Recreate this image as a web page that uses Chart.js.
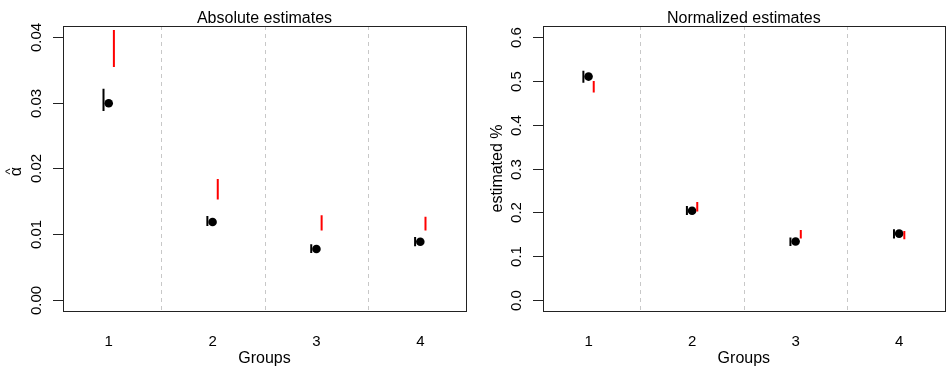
<!DOCTYPE html>
<html>

<head>
  <meta charset="UTF-8">
  <title>Absolute and normalized estimates</title>
  <script src="https://cdn.jsdelivr.net/npm/chart.js"></script>
  <style>
    body {
      margin: 0;
      background: white;
    }

    #wrap {
      position: relative;
      width: 949px;
      height: 370px;
    }

    canvas {
      position: absolute;
      top: 0;
    }

    #absChart {
      left: 0;
    }

    #normChart {
      left: 475px;
    }
  </style>
</head>

<body>
  <div id="wrap">
    <canvas id="absChart" width="475" height="370"></canvas>
    <canvas id="normChart" width="474" height="370"></canvas>
  </div>

  <script>
    // groups on the x axis
    const groups = [1, 2, 3, 4];
    const groupLabels = ['1', '2', '3', '4'];

    // absolute estimates (alpha hat)
    const absEst = [0.0299, 0.0119, 0.0078, 0.0089];
    const absBlackLo = [0.0287, 0.0113, 0.0072, 0.0082];
    const absBlackHi = [0.0321, 0.0128, 0.0085, 0.0096];
    const absRedLo = [0.0354, 0.0153, 0.0106, 0.0106];
    const absRedHi = [0.0410, 0.0184, 0.0129, 0.0127];
    const absTicks = [0, 0.01, 0.02, 0.03, 0.04];
    const absTickLabels = ['0.00', '0.01', '0.02', '0.03', '0.04'];

    // normalized estimates (estimated %)
    const normEst = [0.509, 0.204, 0.134, 0.152];
    const normBlackLo = [0.495, 0.194, 0.124, 0.141];
    const normBlackHi = [0.522, 0.215, 0.143, 0.162];
    const normRedLo = [0.473, 0.202, 0.141, 0.139];
    const normRedHi = [0.499, 0.224, 0.160, 0.158];
    const normTicks = [0, 0.1, 0.2, 0.3, 0.4, 0.5, 0.6];
    const normTickLabels = ['0.0', '0.1', '0.2', '0.3', '0.4', '0.5', '0.6'];

    const dividers = [1.5, 2.5, 3.5];
    const FONT = '"Liberation Sans", Arial, Helvetica, sans-serif';

    // vertical segments, broken by null points
    function segments(xs, lo, hi, shift) {
      let out = [];
      xs.forEach((g, i) => {
        out.push({ x: g + shift, y: lo[i] });
        out.push({ x: g + shift, y: hi[i] });
        out.push({ x: g + shift, y: null });
      });
      return out;
    }

    function makePanel(id, cfg) {
      const rPlot = {
        id: 'rPlot' + id,
        beforeDatasetsDraw(chart) {
          const c = chart.ctx;
          const a = chart.chartArea;
          const xs = chart.scales.x;
          c.save();
          c.strokeStyle = 'rgb(200,200,200)';
          c.lineWidth = 1;
          c.setLineDash([4, 4]);
          dividers.forEach(d => {
            const px = Math.round(xs.getPixelForValue(d)) + 0.5;
            c.beginPath();
            c.moveTo(px, a.top);
            c.lineTo(px, a.bottom);
            c.stroke();
          });
          c.restore();
        },
        afterDraw(chart) {
          const c = chart.ctx;
          const a = chart.chartArea;
          const xs = chart.scales.x;
          const ys = chart.scales.y;
          c.save();
          c.strokeStyle = '#222';
          c.fillStyle = 'black';
          c.lineWidth = 1;
          // box
          c.strokeRect(Math.round(a.left) + 0.5, Math.round(a.top) + 0.5,
            Math.round(a.right - a.left), Math.round(a.bottom - a.top));

          // y axis ticks
          c.font = '15px ' + FONT;
          cfg.ticks.forEach((t, i) => {
            const py = Math.round(ys.getPixelForValue(t)) + 0.5;
            c.beginPath();
            c.moveTo(a.left - 10, py);
            c.lineTo(a.left, py);
            c.stroke();
            c.save();
            c.translate(a.left - 22, py);
            c.rotate(-Math.PI / 2);
            c.textAlign = 'center';
            c.textBaseline = 'alphabetic';
            c.fillText(cfg.tickLabels[i], 0, 0);
            c.restore();
          });

          // x labels
          c.textAlign = 'center';
          c.textBaseline = 'alphabetic';
          groups.forEach((g, i) => {
            c.fillText(groupLabels[i], xs.getPixelForValue(g), 345.5);
          });

          const cx = (a.left + a.right) / 2;
          const cy = (a.top + a.bottom) / 2;
          c.font = '16px ' + FONT;
          c.fillText('Groups', cx, 362.5);
          c.fillText(cfg.title, cx, 22.5);

          // y label
          c.save();
          c.translate(cfg.yLabelX, cy);
          c.rotate(-Math.PI / 2);
          if (cfg.hat) {
            c.fillText('α', -3, 0);
            c.font = '13px ' + FONT;
            c.fillText('^', -3, -7);
          } else {
            c.fillText(cfg.yLabel, 0, 0);
          }
          c.restore();
          c.restore();
        }
      };

      return new Chart(document.getElementById(id), {
        type: 'scatter',
        data: {
          datasets: [
            {
              type: 'line',
              data: segments(groups, cfg.blackLo, cfg.blackHi, -0.05),
              borderColor: 'black',
              borderWidth: 2,
              borderCapStyle: 'butt',
              pointRadius: 0,
              spanGaps: false
            },
            {
              type: 'line',
              data: segments(groups, cfg.redLo, cfg.redHi, 0.05),
              borderColor: 'rgb(255,0,0)',
              borderWidth: 2,
              borderCapStyle: 'butt',
              pointRadius: 0,
              spanGaps: false
            },
            {
              data: groups.map((g, i) => ({ x: g, y: cfg.est[i] })),
              backgroundColor: 'black',
              borderWidth: 0,
              pointRadius: 4.3
            }
          ]
        },
        options: {
          responsive: false,
          animation: false,
          events: [],
          layout: {
            padding: cfg.padding
          },
          plugins: {
            legend: { display: false },
            tooltip: { enabled: false }
          },
          scales: {
            x: { type: 'linear', min: 0.56, max: 4.44, display: false },
            y: { type: 'linear', min: cfg.yMin, max: cfg.yMax, display: false }
          }
        },
        plugins: [rPlot]
      });
    }

    makePanel('absChart', {
      title: 'Absolute estimates',
      hat: true,
      yLabelX: 21,
      est: absEst,
      blackLo: absBlackLo,
      blackHi: absBlackHi,
      redLo: absRedLo,
      redHi: absRedHi,
      ticks: absTicks,
      tickLabels: absTickLabels,
      yMin: -0.0016,
      yMax: 0.0416,
      padding: { left: 63, right: 9, top: 26, bottom: 59 }
    });

    makePanel('normChart', {
      title: 'Normalized estimates',
      yLabel: 'estimated %',
      yLabelX: 27,
      est: normEst,
      blackLo: normBlackLo,
      blackHi: normBlackHi,
      redLo: normRedLo,
      redHi: normRedHi,
      ticks: normTicks,
      tickLabels: normTickLabels,
      yMin: -0.024,
      yMax: 0.624,
      padding: { left: 68, right: 3, top: 26, bottom: 59 }
    });
  </script>
</body>

</html>
